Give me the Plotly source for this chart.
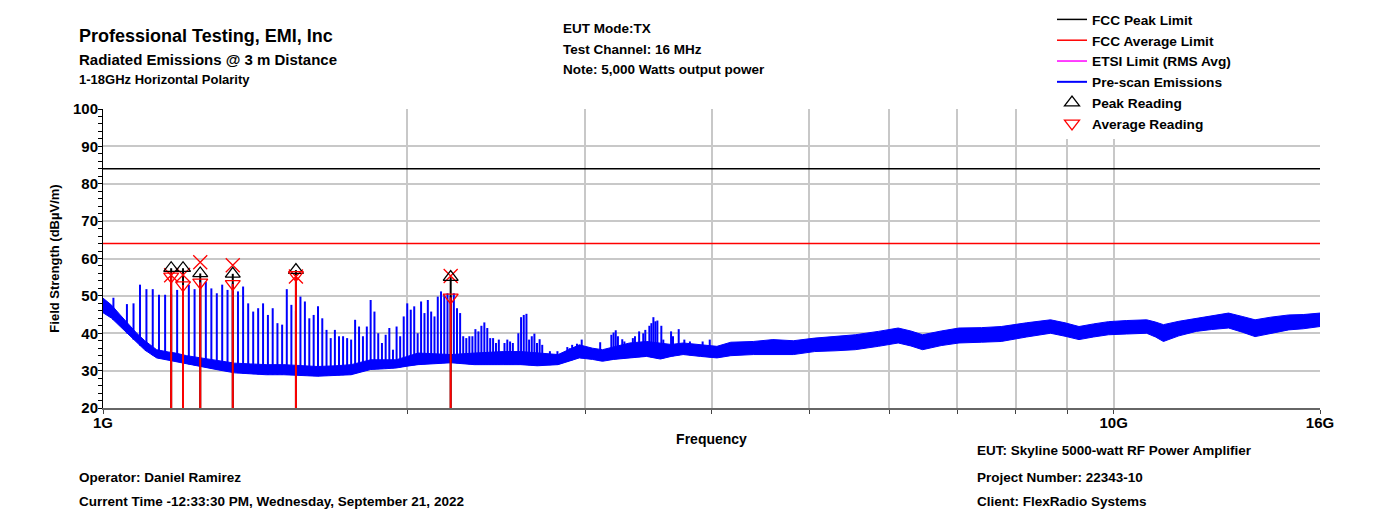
import numpy as np
import plotly.graph_objects as go

FONT = "Liberation Sans, Arial, sans-serif"

# ---- pre-scan noise floor envelope (GHz, dBuV/m) ----
floor_ghz = [1.00, 1.02, 1.04, 1.06, 1.08, 1.10, 1.13, 1.16, 1.18, 1.21, 1.25, 1.30, 1.35,
             1.40, 1.45, 1.51, 1.57, 1.63, 1.70, 1.76, 1.84, 1.90, 1.95, 2.00, 2.05, 2.13,
             2.21, 2.33, 2.41, 2.49, 2.59, 2.69, 2.82, 2.96, 3.05, 3.12, 3.20, 3.32, 3.45,
             3.56, 3.65, 3.75, 3.90, 4.05, 4.18, 4.40, 4.60, 4.82, 5.06, 5.30, 5.55, 5.85,
             6.12, 6.30, 6.47, 6.75, 7.03, 7.40, 7.74, 8.20, 8.66, 8.95, 9.24, 9.55, 9.88,
             10.3, 10.78, 11.0, 11.2, 11.6, 12.07, 12.5, 12.99, 13.4, 13.8, 14.3, 14.9,
             15.4, 16.0]
floor_hi = [49.4, 47.5, 44.9, 42.5, 40.0, 38.0, 35.6, 35.0, 34.7, 34.0, 33.4, 32.6, 32.0,
            31.8, 31.6, 31.6, 31.4, 31.1, 31.3, 31.6, 32.9, 32.9, 32.9, 33.8, 34.7, 34.5,
            34.3, 34.7, 35.0, 35.1, 35.1, 34.8, 34.3, 36.9, 36.0, 35.6, 36.4, 37.4, 37.8,
            37.4, 37.0, 37.4, 37.0, 36.5, 37.6, 37.8, 38.3, 38.0, 38.7, 39.2, 39.6, 40.5,
            41.4, 40.6, 39.6, 40.6, 41.4, 41.5, 41.8, 42.8, 43.6, 42.8, 41.8, 42.5, 43.1,
            43.4, 43.6, 43.0, 42.3, 43.2, 44.0, 44.7, 45.4, 44.5, 43.6, 44.3, 44.9,
            45.0, 45.4]
floor_lo = [45.5, 44.0, 41.8, 39.5, 37.5, 35.5, 33.4, 32.8, 32.5, 31.8, 31.1, 30.2, 29.4,
            29.1, 28.9, 28.9, 28.7, 28.5, 28.7, 28.9, 30.3, 30.5, 30.7, 31.2, 31.6, 31.9,
            32.1, 31.6, 31.6, 31.6, 31.6, 31.3, 31.6, 33.4, 33.0, 32.5, 33.0, 33.4, 33.8,
            33.1, 33.8, 34.3, 33.8, 33.4, 34.0, 34.3, 34.3, 34.3, 35.1, 35.3, 35.6, 36.5,
            37.4, 36.6, 35.6, 36.7, 37.4, 37.6, 37.8, 39.0, 40.0, 39.2, 38.3, 39.0, 39.6,
            39.8, 40.0, 39.0, 37.8, 39.3, 40.5, 41.0, 41.4, 40.3, 39.1, 40.0, 40.9,
            41.2, 41.8]

# ---- discrete emissions seen in the pre-scan (MHz, dBuV/m) ----
spike_mhz = [1024, 1056, 1072, 1088, 1104, 1120, 1136, 1152, 1168, 1184, 1200, 1216, 1232,
             1248, 1264, 1280, 1296, 1312, 1328, 1344, 1360, 1376, 1392, 1408, 1424, 1440,
             1456, 1472, 1488, 1504, 1520, 1536, 1552, 1568, 1584, 1600, 1616, 1632, 1648,
             1664, 1680, 1696, 1712, 1728, 1744, 1760, 1776, 1792, 1808, 1824, 1840, 1856,
             1872, 1888, 1904, 1920, 1936, 1952, 1968, 1984, 2000, 2016, 2032, 2048, 2064,
             2080, 2096, 2112, 2128, 2144, 2160, 2176, 2192, 2208, 2224, 2240, 2256, 2272,
             2288, 2304, 2320, 2336, 2352, 2368, 2384, 2400, 2416, 2432, 2448, 2464, 2496,
             2512, 2528, 2544, 2576, 2592, 2608, 2624, 2640, 2656, 2672, 2688, 2704, 2720,
             2768, 2816, 2880, 2896, 2912, 2944, 2976, 3104, 3184, 3200, 3216, 3232, 3264,
             3280, 3344, 3360, 3392, 3424, 3440, 3472, 3488, 3504, 3520, 3536, 3568, 3584,
             3648, 3664, 3712, 3760, 3808, 3920, 3984]
spike_dbuv = [49.5, 47.8, 48.0, 53.0, 51.8, 51.8, 50.3, 50.3, 50.5, 51.6, 52.0, 53.0, 51.8,
              54.3, 53.8, 52.0, 50.7, 53.0, 51.6, 53.4, 51.2, 52.5, 48.0, 45.8, 46.7, 48.0,
              44.9, 46.7, 42.7, 42.3, 51.8, 47.6, 46.0, 49.8, 48.5, 44.0, 44.9, 47.2, 44.0,
              40.9, 38.7, 40.9, 39.2, 39.2, 38.7, 38.3, 43.6, 41.8, 39.2, 41.8, 48.9, 45.8,
              40.0, 37.4, 39.6, 41.4, 35.6, 41.8, 39.2, 44.5, 48.0, 46.3, 47.2, 40.0, 48.5,
              45.4, 48.9, 45.8, 44.5, 49.8, 51.2, 50.3, 50.7, 50.0, 50.7, 46.7, 45.4, 39.2,
              38.7, 39.2, 39.2, 41.1, 40.5, 42.0, 42.9, 41.4, 38.7, 38.7, 37.4, 38.3, 37.4,
              38.3, 37.8, 37.4, 40.0, 44.3, 44.9, 45.2, 38.3, 39.2, 39.9, 37.4, 38.4, 36.9,
              35.2, 35.2, 36.3, 36.0, 36.9, 37.2, 38.3, 37.6, 39.6, 40.2, 40.8, 39.2, 38.4,
              37.8, 38.7, 39.2, 40.5, 40.0, 40.9, 42.0, 42.7, 44.3, 43.2, 43.4, 42.0, 38.3,
              40.5, 39.2, 41.1, 38.3, 37.8, 37.8, 38.3]

# ---- final measurements ----
reading_ghz = [1.168, 1.200, 1.248, 1.344, 1.552, 2.208]
peak_reading = [57.4, 57.4, 56.0, 55.9, 56.9, 55.0]
avg_reading = [55.2, 52.9, 53.6, 53.2, 55.6, 49.6]
rms_reading = [55.5, 55.6, 59.0, 58.2, 55.2, 55.3]

# ---- limits ----
freq_span_ghz = [1.0, 16.0]
fcc_peak_limit = [84.0, 84.0]
fcc_avg_limit = [64.0, 64.0]

y_floor = 20.0
x_tick_ghz = [1, 2, 3, 4, 5, 6, 7, 8, 9, 10, 16]
x_tick_text = ["1G", "", "", "", "", "", "", "", "", "10G", "16G"]

# plot area in pixels
W, H = 1393, 521
L, R, T, B = 103, 1320, 108.5, 408


def px(x):
    return (x - L) / (R - L)


def py(y):
    return (B - y) / (B - T)


BLUE = "#0000ff"
RED = "#ff0000"
fig = go.Figure()

# noise floor band
fig.add_trace(go.Scatter(
    x=floor_ghz + floor_ghz[::-1], y=floor_hi + floor_lo[::-1],
    mode="lines", fill="toself", fillcolor=BLUE,
    line=dict(color=BLUE, width=1), showlegend=False, hoverinfo="skip",
    legendgroup="prescan"))

# emission spikes rising from the floor
log_floor = np.log10(floor_ghz)
sx, sy = [], []
for f_mhz, v in zip(spike_mhz, spike_dbuv):
    f = f_mhz / 1000.0
    base = float(np.interp(np.log10(f), log_floor, floor_lo))
    sx += [f, f, None]
    sy += [base, v, None]
fig.add_trace(go.Scatter(
    x=sx, y=sy, mode="lines", line=dict(color=BLUE, width=2),
    name="Pre-scan Emissions", legendgroup="prescan", legendrank=4))

fig.add_trace(go.Scatter(x=freq_span_ghz, y=fcc_peak_limit, mode="lines",
                         line=dict(color="black", width=1.5),
                         name="FCC Peak Limit", legendrank=1))
fig.add_trace(go.Scatter(x=freq_span_ghz, y=fcc_avg_limit, mode="lines",
                         line=dict(color=RED, width=1.5),
                         name="FCC Average Limit", legendrank=2))
fig.add_trace(go.Scatter(x=[None], y=[None], mode="lines",
                         line=dict(color="#ff00ff", width=1.5),
                         name="ETSI Limit (RMS Avg)", legendrank=3))

# stems: black up to peak, red up to average
bx, by, rx, ry = [], [], [], []
for f, pk, av in zip(reading_ghz, peak_reading, avg_reading):
    bx += [f, f, None]
    by += [y_floor, pk, None]
    rx += [f, f, None]
    ry += [y_floor, av, None]
fig.add_trace(go.Scatter(x=bx, y=by, mode="lines", line=dict(color="black", width=2),
                         showlegend=False, hoverinfo="skip"))
fig.add_trace(go.Scatter(x=rx, y=ry, mode="lines", line=dict(color=RED, width=2),
                         showlegend=False, hoverinfo="skip"))

fig.add_trace(go.Scatter(x=reading_ghz, y=rms_reading, mode="markers",
                         marker=dict(symbol="x-thin-open", size=14, color=RED,
                                     line=dict(color=RED, width=1.3)),
                         showlegend=False))
fig.add_trace(go.Scatter(x=reading_ghz, y=peak_reading, mode="markers",
                         marker=dict(symbol="triangle-up-open", size=13, color="black",
                                     line=dict(color="black", width=1.3)),
                         name="Peak Reading", legendrank=5))
fig.add_trace(go.Scatter(x=reading_ghz, y=avg_reading, mode="markers",
                         marker=dict(symbol="triangle-down-open", size=13, color=RED,
                                     line=dict(color=RED, width=1.3)),
                         name="Average Reading", legendrank=6))

bold = dict(family=FONT, color="black", weight="bold")

texts = [
    ("Professional Testing, EMI, Inc", 77, 35, 18),
    ("Radiated Emissions @ 3 m Distance", 77, 59, 15),
    ("1-18GHz Horizontal Polarity", 77, 79, 13),
    ("EUT Mode:TX", 561, 28, 13.5),
    ("Test Channel: 16 MHz", 561, 49, 13.5),
    ("Note: 5,000 Watts output power", 561, 69, 13.5),
    ("Operator: Daniel Ramirez", 77, 478, 13.5),
    ("Current Time -12:33:30 PM, Wednesday, September 21, 2022", 77, 502, 13.5),
    ("EUT: Skyline 5000-watt RF Power Amplifier", 975, 451, 13.5),
    ("Project Number: 22343-10", 975, 478, 13.5),
    ("Client: FlexRadio Systems", 975, 502, 13.5),
]
annotations = [
    dict(text=t, x=px(x), y=py(y), xref="paper", yref="paper", xanchor="left",
         yanchor="middle", showarrow=False, font=dict(size=s, **bold))
    for t, x, y, s in texts
]

fig.update_layout(
    width=W, height=H,
    margin=dict(l=L, r=W - R, t=T, b=H - B, pad=0, autoexpand=False),
    paper_bgcolor="white", plot_bgcolor="white",
    font=dict(family=FONT, color="black"),
    annotations=annotations,
    showlegend=True,
    legend=dict(xref="container", yref="container",
                x=1052 / W, y=1 - 4 / H, xanchor="left", yanchor="top",
                bgcolor="white", borderwidth=0, tracegroupgap=0,
                font=dict(size=13.7, **bold), itemwidth=30),
    xaxis=dict(
        type="log", range=[0, np.log10(16)],
        tickvals=x_tick_ghz, ticktext=x_tick_text,
        tickfont=dict(size=15, **bold),
        showgrid=True, gridcolor="#c8c8c8", gridwidth=1.5,
        ticks="outside", ticklen=4, tickcolor="#444444", ticklabelstandoff=-4,
        showline=True, linecolor="#666666", linewidth=2, zeroline=False,
        title=dict(text="Frequency", font=dict(size=14, **bold), standoff=4),
    ),
    yaxis=dict(
        range=[20, 100], dtick=10, tick0=0,
        tickfont=dict(size=15, **bold),
        showgrid=True, gridcolor="#c8c8c8", gridwidth=1.5,
        ticks="outside", ticklen=4, tickcolor="black", ticklabelstandoff=-3,
        minor=dict(dtick=2, ticks="outside", ticklen=4, tickcolor="black", showgrid=False),
        showline=True, linecolor="black", linewidth=1, zeroline=False,
        title=dict(text="Field Strength (dBµV/m)", font=dict(size=13, **bold), standoff=10),
    ),
)

fig.write_html("out.html")
